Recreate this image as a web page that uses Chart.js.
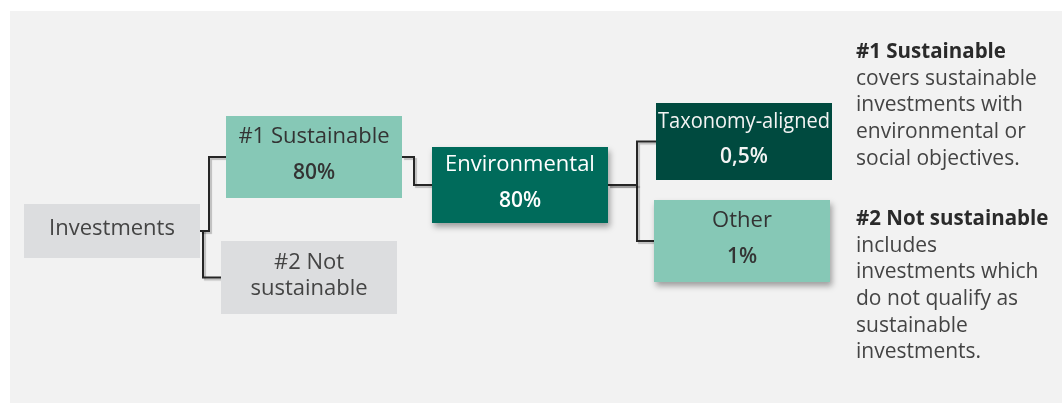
<!DOCTYPE html>
<html>
<head>
<meta charset="utf-8">
<script src="https://cdn.jsdelivr.net/npm/chart.js@4/dist/chart.umd.min.js"></script>
<style>
  html, body { margin: 0; padding: 0; background: #fff; }
  #wrap { position: relative; width: 1062px; height: 403px; }
</style>
</head>
<body>
<div id="wrap"><canvas id="c" width="1062" height="403"></canvas></div>
<script>
// ---- data ----
const nodeNames = [['Investments'], ['#1 Sustainable'], ['#2 Not', 'sustainable'], ['Environmental'], ['Taxonomy-aligned'], ['Other']];
const nodeShares = ['', '80%', '', '80%', '0,5%', '1%'];
const nodeParents = [-1, 0, 0, 1, 3, 3];
const noteTitles = ['#1 Sustainable', '#2 Not sustainable'];
const noteLines = [
  ['covers sustainable', 'investments with', 'environmental or', 'social objectives.'],
  ['includes', 'investments which', 'do not qualify as', 'sustainable', 'investments.']
];

// ---- layout (diagram units, same as canvas px) ----
const boxes = [
  { x: 24,  y: 204, w: 176, h: 54, fill: '#dcdddf', ink: '#444',  shadow: false },
  { x: 226, y: 116, w: 176, h: 82, fill: '#86c8b6', ink: '#333',  shadow: false },
  { x: 221, y: 241, w: 176, h: 73, fill: '#dcdddf', ink: '#444',  shadow: false },
  { x: 432, y: 147, w: 176, h: 76, fill: '#006b5b', ink: '#fff',  shadow: true },
  { x: 656, y: 103, w: 176, h: 77, fill: '#004a3f', ink: '#f4f4f4', shadow: false },
  { x: 654, y: 200, w: 176, h: 82, fill: '#86c8b6', ink: '#333',  shadow: true }
];
const elbowGap = [0, 9, 3, 12, 29, 29];
const FONT = "'Open Sans', 'Noto Sans', sans-serif";

// connectors built from the layout
const linkSets = [];
nodeParents.forEach((p, i) => {
  if (p < 0) return;
  const a = boxes[p], b = boxes[i];
  const sx = a.x + a.w, sy = a.y + a.h / 2;
  const ex = b.x, ey = b.y + b.h / 2;
  const mx = sx + elbowGap[i];
  linkSets.push({
    type: 'line',
    data: [{ x: sx, y: sy }, { x: mx, y: sy }, { x: mx, y: ey }, { x: ex, y: ey }],
    borderColor: '#262626',
    borderWidth: 2,
    pointRadius: 0,
    showLine: true,
    tension: 0,
    fill: false
  });
});

const diagramPlugin = {
  id: 'diagram',
  beforeDraw(chart) {
    const { ctx, scales: { x, y } } = chart;
    ctx.save();
    ctx.fillStyle = '#fff';
    ctx.fillRect(0, 0, chart.width, chart.height);
    ctx.fillStyle = '#f2f2f2';
    const x0 = x.getPixelForValue(10), y0 = y.getPixelForValue(11);
    ctx.fillRect(x0, y0, chart.width - x0, chart.height - y0);
    ctx.restore();
  },
  beforeDatasetsDraw(chart) {
    const ctx = chart.ctx;
    ctx.save();
    ctx.shadowColor = 'rgba(0,0,0,0.22)';
    ctx.shadowBlur = 1;
    ctx.shadowOffsetX = 2;
    ctx.shadowOffsetY = 2;
  },
  afterDatasetsDraw(chart) {
    const { ctx, scales: { x, y } } = chart;
    ctx.restore();

    // boxes
    boxes.forEach((b, i) => {
      const px = x.getPixelForValue(b.x), py = y.getPixelForValue(b.y);
      const pw = x.getPixelForValue(b.x + b.w) - px, ph = y.getPixelForValue(b.y + b.h) - py;
      ctx.save();
      if (b.shadow) {
        ctx.shadowColor = 'rgba(0,0,0,0.35)';
        ctx.shadowBlur = 6;
        ctx.shadowOffsetX = 2;
        ctx.shadowOffsetY = 4;
      }
      ctx.fillStyle = b.fill;
      ctx.fillRect(px, py, pw, ph);
      ctx.restore();

      const cx = px + pw / 2, cy = py + ph / 2;
      const maxW = pw - 4;
      ctx.save();
      ctx.textAlign = 'center';
      ctx.textBaseline = 'middle';
      ctx.fillStyle = b.ink;
      const lines = nodeNames[i];
      if (nodeShares[i]) {
        ctx.font = '400 22px ' + FONT;
        ctx.fillText(lines[0], cx, cy - 20, maxW);
        ctx.font = '600 21px ' + FONT;
        ctx.fillText(nodeShares[i], cx, cy + 16, maxW);
      } else {
        ctx.font = '400 22px ' + FONT;
        const step = 26;
        const top = cy - (lines.length - 1) * step / 2 - 2;
        lines.forEach((t, k) => ctx.fillText(t, cx, top + k * step, maxW));
      }
      ctx.restore();
    });

    // notes on the right
    ctx.save();
    ctx.textAlign = 'left';
    ctx.textBaseline = 'middle';
    const nx = x.getPixelForValue(856);
    const starts = [52, 219];
    const lh = 26.7;
    noteTitles.forEach((t, k) => {
      const ty = y.getPixelForValue(starts[k]);
      ctx.font = '700 20.5px ' + FONT;
      ctx.fillStyle = '#2a2a2a';
      ctx.fillText(t, nx, ty);
      ctx.font = '400 21px ' + FONT;
      ctx.fillStyle = '#444';
      noteLines[k].forEach((s, j) => ctx.fillText(s, nx, ty + (j + 1) * lh));
    });
    ctx.restore();
  }
};

new Chart(document.getElementById('c'), {
  type: 'scatter',
  data: { datasets: linkSets },
  options: {
    responsive: false,
    animation: false,
    layout: { padding: 0 },
    scales: {
      x: { type: 'linear', min: 0, max: 1062, display: false },
      y: { type: 'linear', min: 0, max: 403, reverse: true, display: false }
    },
    plugins: { legend: { display: false }, tooltip: { enabled: false } }
  },
  plugins: [diagramPlugin]
});
</script>
</body>
</html>
